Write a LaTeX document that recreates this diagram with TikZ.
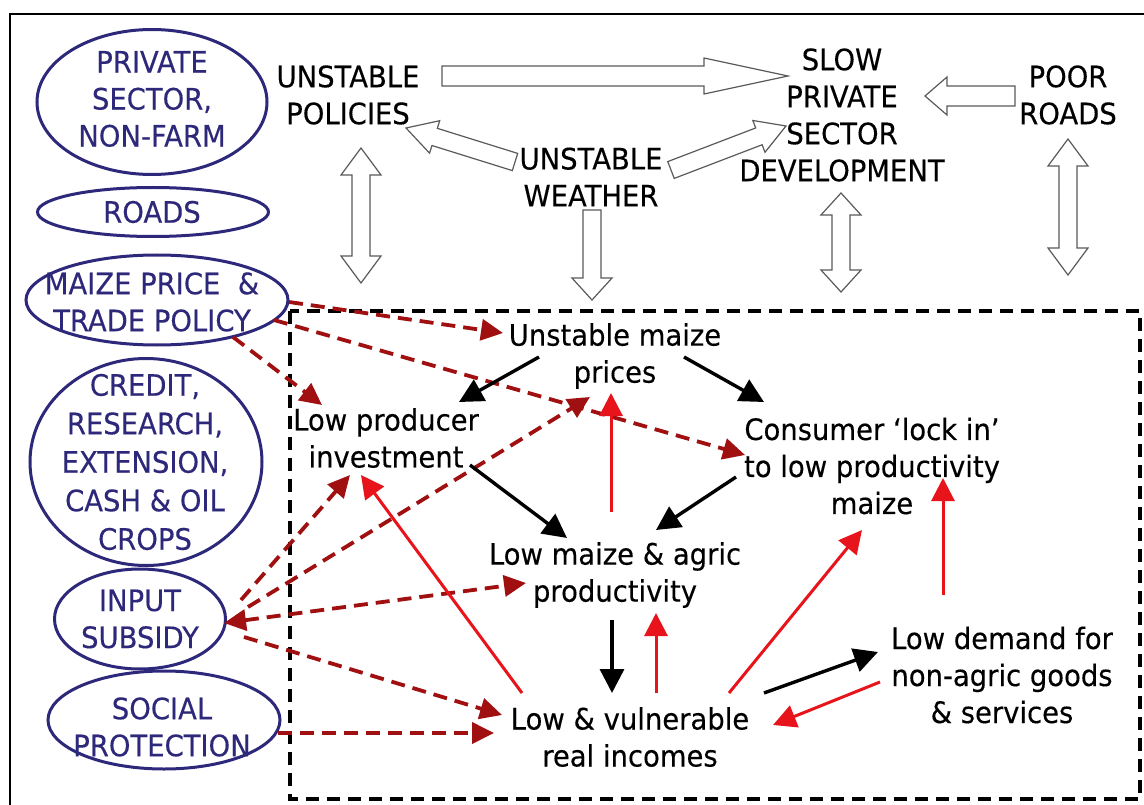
\documentclass[tikz,border=0pt]{standalone}
\usepackage{fontspec}
\setmainfont{DejaVu Sans}[FakeStretch=0.93,FakeBold=0.3]
\usetikzlibrary{arrows.meta,shapes.geometric}
\definecolor{navyc}{RGB}{45,40,122}
\definecolor{dred}{RGB}{160,16,16}
\definecolor{bred}{RGB}{232,20,27}
\definecolor{blkgray}{RGB}{90,90,90}
\tikzset{
  txt/.style={align=center,inner sep=0pt,font=\fontsize{29.5pt}{37pt}\selectfont},
  ntxt/.style={txt,text=navyc},
  oval/.style={ellipse,draw=navyc,line width=3pt,inner sep=0pt},
  blk/.style={draw=blkgray,fill=white,line width=1.2pt,line join=miter},
  barr/.style={line width=3.4pt,-{Triangle[length=24pt,width=24pt]}},
  rarr/.style={draw=bred,line width=3pt,-{Triangle[length=23pt,width=23pt]},bred},
  darr/.style={draw=dred,line width=3.8pt,dash pattern=on 14pt off 8pt,-{Triangle[length=22pt,width=21pt]},dred},
}
\newcommand\barrowone[7]{%
  \pgfmathsetmacro\ang{atan2(#2-#4,#3-#1)}%
  \pgfmathsetmacro\len{veclen(#3-#1,#4-#2)}%
  \begin{scope}[shift={(#1,#2)},rotate=\ang]
    \draw[blk] (0,-#5) -- ({\len-#7},-#5) -- ({\len-#7},-#6) -- (\len,0) -- ({\len-#7},#6) -- ({\len-#7},#5) -- (0,#5) -- cycle;
  \end{scope}}
\newcommand\barrowtwo[7]{%
  \pgfmathsetmacro\ang{atan2(#2-#4,#3-#1)}%
  \pgfmathsetmacro\len{veclen(#3-#1,#4-#2)}%
  \begin{scope}[shift={(#1,#2)},rotate=\ang]
    \draw[blk] (0,0) -- (#7,-#6) -- (#7,-#5) -- ({\len-#7},-#5) -- ({\len-#7},-#6) -- (\len,0) -- ({\len-#7},#6) -- ({\len-#7},#5) -- (#7,#5) -- (#7,#6) -- cycle;
  \end{scope}}
\begin{document}
\begin{tikzpicture}[x=1pt,y=-1pt]
\useasboundingbox (0,0) rectangle (1144,805);
\fill[white] (0,0) rectangle (1144,805);
% outer frame
\draw[line width=2.4pt] (10,812) -- (10,14) -- (1150,14);
% dashed box
\draw[line width=3.2pt,dash pattern=on 13pt off 8pt] (290,311) rectangle (1140,799);

% ellipses
\node[oval,minimum width=230pt,minimum height=145pt] (e1) at (152,102) {};
\node[ntxt] (t1) at (152,99) {PRIVATE\\SECTOR,\\NON-FARM};
\node[oval,minimum width=231pt,minimum height=49pt] (e2) at (153,212) {};
\node[ntxt] (t2) at (152,212) {ROADS};
\node[oval,minimum width=262pt,minimum height=90pt] (e3) at (157,300) {};
\node[ntxt] (t3) at (152,302) {MAIZE PRICE \ \&\\TRADE POLICY};
\node[oval,minimum width=232pt,minimum height=207pt] (e4) at (146,462) {};
\node[ntxt,font=\fontsize{29.5pt}{38.5pt}\selectfont] (t4) at (145,462) {CREDIT,\\RESEARCH,\\EXTENSION,\\CASH \& OIL\\CROPS};
\node[oval,minimum width=171pt,minimum height=100pt] (e5) at (140,619) {};
\node[ntxt] (t5) at (140,619) {INPUT\\SUBSIDY};
\node[oval,minimum width=232pt,minimum height=98pt] (e6) at (164,720) {};
\node[ntxt] (t6) at (162,727) {SOCIAL\\PROTECTION};

% top texts
\node[txt] (pol) at (348,95) {UNSTABLE\\POLICIES};
\node[txt] (slow) at (842,115) {SLOW\\PRIVATE\\SECTOR\\DEVELOPMENT};
\node[txt] (poor) at (1068,95) {POOR\\ROADS};
\node[txt] (wea) at (591,177) {UNSTABLE\\WEATHER};

% inner texts
\node[txt] (up) at (615,356) {Unstable maize\\prices};
\node[txt] (lp) at (386,438) {Low producer\\investment};
\node[txt] (cl) at (872,466) {Consumer `lock in'\\to low productivity\\maize};
\node[txt] (lm) at (615,575) {Low maize \& agric\\productivity};
\node[txt] (ld) at (1002,675) {Low demand for\\non-agric goods\\\& services};
\node[txt] (lv) at (630,737) {Low \& vulnerable\\real incomes};

% block arrows
\barrowone{442}{76}{788}{76}{10}{18}{84}
\barrowone{1015}{96}{925}{96}{10}{19}{22}
\barrowone{515}{162}{406}{128}{9}{17}{30}
\barrowone{671}{170}{786}{126}{9}{17}{29}
\barrowone{592}{210}{592}{300}{9}{20}{22}
\barrowtwo{361}{148}{361}{283}{9}{20}{27}
\barrowtwo{841}{193}{841}{292}{9}{20}{22}
\barrowtwo{1068}{139}{1068}{275}{9}{20}{27}

% dashed policy arrows
\draw[darr] (289,302) -- (503,333);
\draw[darr] (274,320) -- (745,455);
\draw[darr] (233,337) -- (322,405);
\draw[darr] (241,600) -- (350,475);
\draw[darr] (248,607) -- (590,397);
\draw[darr,{Triangle[length=22pt,width=21pt]}-{Triangle[length=22pt,width=21pt]}] (224,623) -- (526,583);
\draw[darr] (244,637) -- (502,715);
\draw[darr] (278,733) -- (494,733);

% black arrows
\draw[barr] (539,357) -- (459,402);
\draw[barr] (684,357) -- (764,402);
\draw[barr] (470,465) -- (567,538);
\draw[barr] (736,477) -- (656,530);
\draw[barr] (612,620) -- (612,693);
\draw[barr] (764,693) -- (878,652);

% red arrows
\draw[rarr] (611,512) -- (611,393);
\draw[rarr] (656,693) -- (656,613);
\draw[rarr] (522,693) -- (361,475);
\draw[rarr] (729,693) -- (862,530);
\draw[rarr] (943,595) -- (943,478);
\draw[rarr] (880,682) -- (773,725);
\end{tikzpicture}
\end{document}
